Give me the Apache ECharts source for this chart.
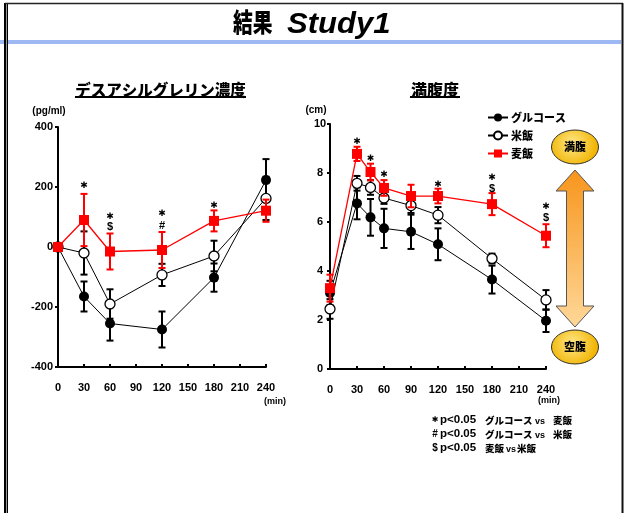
<!DOCTYPE html>
<html><head><meta charset="utf-8">
<script src="https://cdn.jsdelivr.net/npm/echarts@6/dist/echarts.min.js"></script>
<style>html,body{margin:0;padding:0;background:#fff}#c{width:627px;height:513px}</style>
</head><body><div id="c"></div>
<script>
// ---------- data ----------
const seriesNames = ['グルコース', '米飯', '麦飯'];
const xTicks = [0, 30, 60, 90, 120, 150, 180, 210, 240];
const leftYTicks = [-400, -200, 0, 200, 400];
const rightYTicks = [0, 2, 4, 6, 8, 10];

// Left: desacyl ghrelin change (pg/ml)
const leftTimes = [0, 30, 60, 120, 180, 240];
const leftGlucose = [0, -165, -255, -275, -102, 223];
const leftGlucoseErr = [0, 50, 57, 60, 47, 70];
const leftRice = [0, -20, -190, -93, -30, 162];
const leftRiceErr = [0, 72, 49, 37, 51, 72];
const leftBarley = [0, 90, -15, -10, 87, 121];
const leftBarleyErr = [0, 87, 60, 60, 35, 37];

// Right: fullness (cm)
const rightTimes = [0, 30, 45, 60, 90, 120, 180, 240];
const rightGlucose = [3.1, 6.76, 6.19, 5.74, 5.6, 5.09, 3.65, 1.97];
const rightGlucoseErr = [0.5, 0.65, 0.75, 0.8, 0.7, 0.65, 0.57, 0.46];
const rightRice = [2.45, 7.58, 7.41, 6.98, 6.67, 6.28, 4.51, 2.82];
const rightRiceErr = [0.4, 0.3, 0.3, 0.24, 0.3, 0.33, 0.2, 0.4];
const rightBarley = [3.3, 8.78, 8.04, 7.39, 7.06, 7.06, 6.73, 5.44];
const rightBarleyErr = [0.55, 0.29, 0.34, 0.32, 0.46, 0.3, 0.45, 0.47];

// significance markers [time, value position, symbol]
const sigLeft = [[30, 203, '*'], [60, 101, '*'], [60, 66, '$'], [120, 112, '*'], [120, 71, '#'], [180, 137, '*']];
const sigRight = [[30, 9.28, '*'], [45, 8.6, '*'], [60, 7.92, '*'], [120, 7.52, '*'], [180, 7.8, '*'], [180, 7.34, '$'], [240, 6.62, '*'], [240, 6.15, '$']];

// ---------- chart ----------
const chart = echarts.init(document.getElementById('c'), null, {renderer: 'canvas'});
const LAT = '"Liberation Sans", Arial, sans-serif';
const JP = '"Noto Sans CJK JP", sans-serif';
const STAR = '✱';
const STARFONT = 'bold 9px "DejaVu Sans", sans-serif';

function xAxisDef(gi) {
  return {
    type: 'value', gridIndex: gi, min: 0, max: 240, interval: 30,
    axisLine: {onZero: false, lineStyle: {color: '#000', width: 2}},
    axisTick: {inside: true, length: 3, lineStyle: {color: '#000', width: 2}},
    axisLabel: {color: '#000', fontFamily: LAT, fontWeight: 'bold', fontSize: 11, margin: 15},
    splitLine: {show: false}
  };
}
function yAxisDef(gi, min, max, interval, labelExtra) {
  return {
    type: 'value', gridIndex: gi, min, max, interval,
    axisLine: {show: true, onZero: false, lineStyle: {color: '#000', width: 2}},
    axisTick: {show: true, length: 3, lineStyle: {color: '#000', width: 2}},
    axisLabel: Object.assign({color: '#000', fontFamily: LAT, fontWeight: 'bold', fontSize: 11, margin: 5}, labelExtra || {}),
    splitLine: {show: false}
  };
}
function errSeries(ai, xs, vals, errs, color, z) {
  return {
    type: 'custom', xAxisIndex: ai, yAxisIndex: ai, z, silent: true,
    data: xs.map((x, i) => [x, vals[i] - errs[i], vals[i] + errs[i]]).filter((d, i) => errs[i] > 0),
    renderItem(params, api) {
      const lo = api.coord([api.value(0), api.value(1)]);
      const hi = api.coord([api.value(0), api.value(2)]);
      const w = 3.5, st = {stroke: color, lineWidth: 2};
      return {type: 'group', children: [
        {type: 'line', shape: {x1: lo[0], y1: lo[1], x2: hi[0], y2: hi[1]}, style: st},
        {type: 'line', shape: {x1: lo[0] - w, y1: lo[1], x2: lo[0] + w, y2: lo[1]}, style: st},
        {type: 'line', shape: {x1: hi[0] - w, y1: hi[1], x2: hi[0] + w, y2: hi[1]}, style: st}
      ]};
    }
  };
}
function lineSeries(ai, name, xs, vals, z) {
  const base = {name, type: 'line', xAxisIndex: ai, yAxisIndex: ai, z, silent: true,
    data: xs.map((x, i) => [x, vals[i]]), animation: false};
  if (name === 'グルコース') Object.assign(base, {symbol: 'circle', symbolSize: 10,
    itemStyle: {color: '#000'}, lineStyle: {color: '#000', width: 1}});
  if (name === '米飯') Object.assign(base, {symbol: 'circle', symbolSize: 10,
    itemStyle: {color: '#fff', borderColor: '#000', borderWidth: 1.3}, lineStyle: {color: '#000', width: 1}});
  if (name === '麦飯') Object.assign(base, {symbol: 'rect', symbolSize: 10,
    itemStyle: {color: '#ff0000'}, lineStyle: {color: '#ff0000', width: 1.3}});
  return base;
}
function sigSeries(ai, arr) {
  return {
    type: 'custom', xAxisIndex: ai, yAxisIndex: ai, z: 20, silent: true,
    data: arr.map(d => [d[0], d[1]]),
    renderItem(params, api) {
      const p = api.coord([api.value(0), api.value(1)]);
      const s = arr[params.dataIndex][2];
      const isStar = s === '*';
      return {type: 'text', x: p[0], y: p[1], style: {text: isStar ? STAR : s, fill: '#000',
        font: isStar ? STARFONT : 'bold 11px ' + LAT, align: 'center', verticalAlign: 'middle'}};
    }
  };
}

const series = [
  errSeries(0, leftTimes, leftGlucose, leftGlucoseErr, '#000', 2),
  errSeries(0, leftTimes, leftRice, leftRiceErr, '#000', 3),
  lineSeries(0, 'グルコース', leftTimes, leftGlucose, 4),
  lineSeries(0, '米飯', leftTimes, leftRice, 5),
  errSeries(0, leftTimes, leftBarley, leftBarleyErr, '#ff0000', 6),
  lineSeries(0, '麦飯', leftTimes, leftBarley, 7),
  errSeries(1, rightTimes, rightGlucose, rightGlucoseErr, '#000', 2),
  errSeries(1, rightTimes, rightRice, rightRiceErr, '#000', 3),
  lineSeries(1, 'グルコース', rightTimes, rightGlucose, 4),
  lineSeries(1, '米飯', rightTimes, rightRice, 5),
  errSeries(1, rightTimes, rightBarley, rightBarleyErr, '#ff0000', 6),
  lineSeries(1, '麦飯', rightTimes, rightBarley, 7),
  sigSeries(0, sigLeft),
  sigSeries(1, sigRight)
];

function txt(x, y, text, font, align, extra) {
  return Object.assign({type: 'text', x, y, silent: true, style: {text, font, fill: '#000', align: align || 'left', verticalAlign: 'middle'}}, extra || {});
}
function ln(x1, y1, x2, y2, stroke, w) {
  return {type: 'line', silent: true, shape: {x1, y1, x2, y2}, style: {stroke, lineWidth: w}};
}
const footRows = [
  {y: 420, sym: '*', a: 'グルコース', vx: 535, b: '麦飯', bx: 553},
  {y: 434, sym: '#', a: 'グルコース', vx: 535, b: '米飯', bx: 553},
  {y: 448, sym: '$', a: '麦飯', vx: 506, b: '米飯', bx: 517}
];
const goldFill = () => new echarts.graphic.RadialGradient(0.45, 0.4, 0.7, [{offset: 0, color: '#ffe88a'}, {offset: 1, color: '#f1b400'}]);
const graphics = [
  {type: 'rect', silent: true, shape: {x: 0, y: 40, width: 621, height: 4}, style: {fill: '#9db8f2'}},
  ln(5, 3, 5, 513, '#000', 2), ln(6.5, 3, 6.5, 513, '#999', 1), ln(7.5, 3, 7.5, 513, '#000', 1),
  ln(5, 3.5, 623, 3.5, '#222', 1.5), ln(622.5, 3, 622.5, 513, '#111', 2),
  txt(233, 22, '結果', '900 26px ' + JP, 'left', {scaleX: 0.76}),
  txt(287, 25, 'Study1', 'italic bold 29px ' + LAT, 'left', {scaleX: 1.07}),
  txt(160.5, 90, 'デスアシルグレリン濃度', '900 15.5px ' + JP, 'center'),
  ln(75, 97, 246, 97, '#000', 2),
  txt(435, 90, '満腹度', '900 16px ' + JP, 'center'),
  ln(410, 97, 460, 97, '#000', 2),
  txt(49, 111, '(pg/ml)', 'bold 10px ' + LAT, 'center'),
  txt(316, 110, '(cm)', 'bold 10px ' + LAT, 'center'),
  txt(275, 402, '(min)', 'bold 9px ' + LAT, 'center'),
  txt(549, 401, '(min)', 'bold 9px ' + LAT, 'center'),
  // gauge ellipses & arrow
  {type: 'polygon', silent: true, shape: {points: [[575, 170], [594, 191], [583.5, 191], [583.5, 306], [594, 306], [575, 327], [556, 306], [566.5, 306], [566.5, 191], [556, 191]]},
    style: {stroke: '#555', lineWidth: 1, fill: new echarts.graphic.LinearGradient(0, 0, 0, 1, [{offset: 0, color: '#f7951c'}, {offset: 1, color: '#ffd899'}])}},
  {type: 'ellipse', silent: true, shape: {cx: 575, cy: 147, rx: 23.5, ry: 17}, style: {stroke: '#333', lineWidth: 1, fill: goldFill()}},
  txt(575, 147, '満腹', '900 11px ' + JP, 'center'),
  {type: 'ellipse', silent: true, shape: {cx: 575, cy: 347, rx: 23.5, ry: 17}, style: {stroke: '#333', lineWidth: 1, fill: goldFill()}},
  txt(575, 347, '空腹', '900 11px ' + JP, 'center')
];
footRows.forEach(r => {
  graphics.push(txt(435, r.y, r.sym === '*' ? STAR : r.sym, r.sym === '*' ? 'bold 8px "DejaVu Sans", sans-serif' : 'bold 10px ' + LAT, 'center'));
  graphics.push(txt(440, r.y, 'p<0.05', 'bold 10px ' + LAT, 'left', {scaleX: 1.15}));
  graphics.push(txt(485, r.y, r.a, '900 9.5px ' + JP, 'left'));
  graphics.push(txt(r.vx, r.y + 2, 'vs', 'bold 9px ' + LAT, 'left'));
  graphics.push(txt(r.bx, r.y, r.b, '900 9.5px ' + JP, 'left'));
});

chart.setOption({
  animation: false,
  backgroundColor: '#fff',
  grid: [
    {left: 58, top: 127, width: 208, height: 240},
    {left: 330, top: 124, width: 216, height: 245}
  ],
  xAxis: [xAxisDef(0), xAxisDef(1)],
  yAxis: [yAxisDef(0, -400, 400, 200), yAxisDef(1, 0, 10, 2, {align: 'center', margin: 10})],
  legend: {
    data: seriesNames, orient: 'vertical', left: 482, top: 107, itemWidth: 20, itemHeight: 10, itemGap: 7,
    selectedMode: false, lineStyle: {width: 2},
    textStyle: {color: '#000', fontFamily: JP, fontWeight: 900, fontSize: 11, padding: [0, 0, 0, -2]}
  },
  series,
  graphic: graphics
});
</script>
</body></html>
